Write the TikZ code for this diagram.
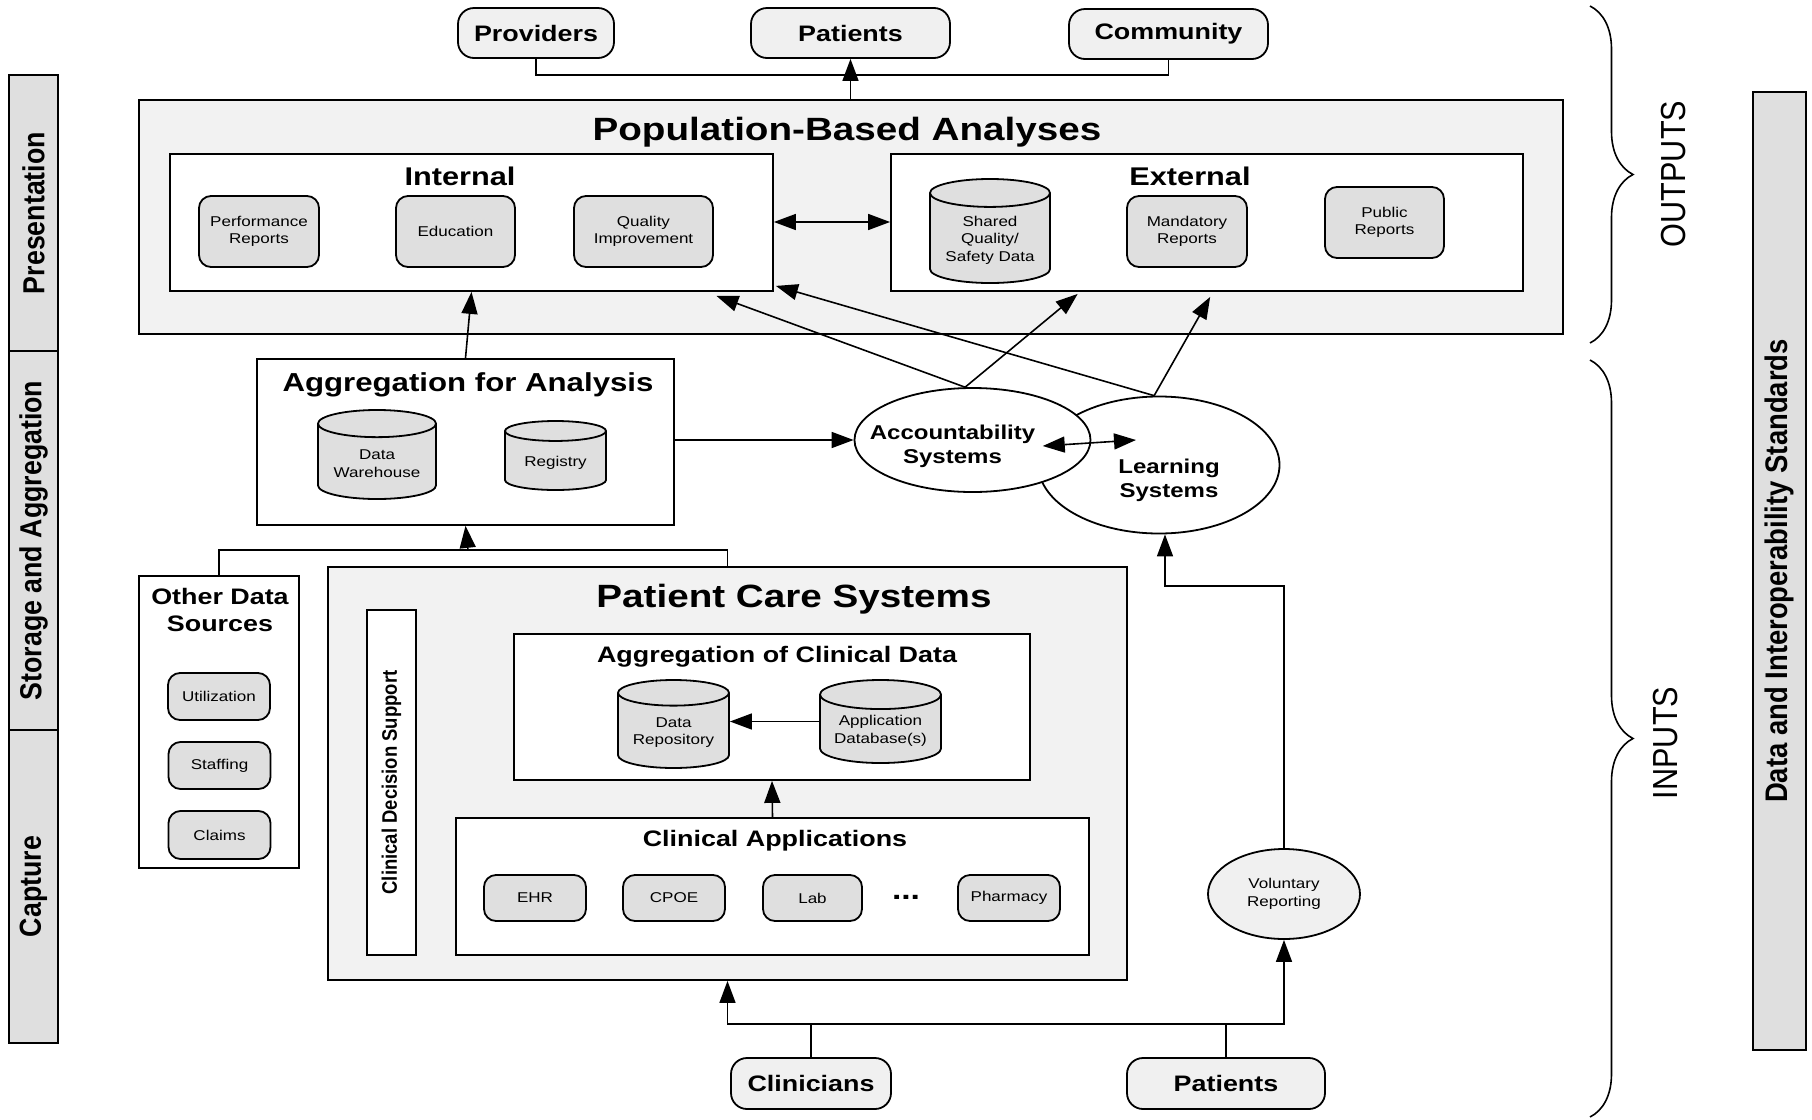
\documentclass[tikz,border=0pt]{standalone}
\usepackage{fontspec}
\setmainfont{Liberation Sans}[FakeStretch=1.2]
\newfontfamily\sidefont{Liberation Sans}[FakeStretch=0.88]
\usetikzlibrary{positioning, arrows.meta, calc, fit, shapes.geometric, decorations.pathreplacing}

\begin{document}
\begin{tikzpicture}[
  x=0.5pt, y=-0.5pt, line width=0.9pt, >={Triangle[length=11pt,width=8pt]},
  panel/.style={draw, fill=gray!10, inner sep=0pt},
  wbox/.style ={draw, fill=white, inner sep=0pt},
  item/.style ={draw, rounded corners=6pt, fill=gray!25, align=center, inner sep=1pt, font=\fontsize{7.1}{8.8}\selectfont},
  db/.style   ={draw, cylinder, shape border rotate=90, aspect=0.3, anchor=shape center, fill=gray!25, align=center, inner sep=1pt, font=\fontsize{7.1}{8.8}\selectfont},
  actor/.style={draw, rounded corners=8pt, fill=gray!12, minimum height=25pt, font=\bfseries\fontsize{11.2}{13}\selectfont},
  sys/.style  ={draw, ellipse, fill=white, inner sep=0pt},
  systxt/.style={align=center, font=\bfseries\fontsize{10}{12}\selectfont},
  bigttl/.style={font=\bfseries\fontsize{16.1}{19}\selectfont},
  midttl/.style={font=\bfseries\fontsize{12.8}{15}\selectfont},
  ttl/.style  ={align=center, font=\bfseries\fontsize{11.2}{13.5}\selectfont},
  lane/.style ={draw, fill=gray!25, rotate=90, inner sep=0pt, font=\sidefont\bfseries\fontsize{15.2}{18}\selectfont},
  bracetxt/.style={rotate=90, font=\sidefont\fontsize{17.4}{20}\selectfont},
  brc/.style  ={decorate, decoration={brace, amplitude=21.5pt}, line width=0.8pt},
  link/.style ={line width=0.8pt}]
\useasboundingbox (0,0) rectangle (1812,1120);

\node[lane, minimum width=138pt,   minimum height=24.5pt] (pres) at (33.5,213)   {Presentation};
\node[lane, minimum width=189.5pt, minimum height=24.5pt] (stor) at (33.5,540.5) {Storage and Aggregation};
\node[lane, minimum width=156.5pt, minimum height=24.5pt] (capt) at (33.5,886.5) {Capture};
\node[lane, minimum width=479pt,   minimum height=26.5pt,
      font=\sidefont\bfseries\fontsize{15.6}{18}\selectfont] (std) at (1779.5,571) {Data and Interoperability Standards};

\node[actor, minimum width=78pt]   (prov) at (536,33)    {Providers};
\node[actor, minimum width=99.5pt] (patT) at (850.5,33)  {Patients};
\node[actor, minimum width=99.5pt] (comm) at (1168.5,34) {Community};

\node[panel, fit={(139,100) (1563,334)}] (pop) {};
\node[bigttl] (popttl) at (847,132) {Population-Based Analyses};
\node[wbox, fit={(170,154) (773,291)}] (int) {};
\node[midttl] (intttl) at (460,176) {Internal};
\node[item, minimum width=60pt, minimum height=35.5pt]   (perf) at (259,231.5)   {Performance\\Reports};
\node[item, minimum width=59.5pt, minimum height=35.5pt] (edu)  at (455.5,231.5) {Education};
\node[item, minimum width=69.5pt, minimum height=35.5pt] (qual) at (643.5,231.5) {Quality\\Improvement};
\node[wbox, fit={(891,154) (1523,291)}] (ext) {};
\node[midttl] (extttl) at (1190,176) {External};
\node[db, minimum width=60pt, minimum height=52pt]       (shared) at (990,231)    {Shared\\Quality/\\Safety Data};
\node[item, minimum width=60pt, minimum height=35.5pt]   (mand)   at (1187,231.5) {Mandatory\\Reports};
\node[item, minimum width=59.5pt, minimum height=35.5pt] (pub)    at (1384.5,222.5) {Public\\Reports};

\node[wbox, fit={(257,359) (674,525)}] (agg) {};
\node[midttl, font=\bfseries\fontsize{13}{15}\selectfont] (aggttl) at (468,385) {Aggregation for Analysis};
\node[db, minimum width=59pt, minimum height=44.5pt]   (dw)  at (377,454.5)   {Data\\Warehouse};
\node[db, minimum width=50.5pt, minimum height=34.5pt] (reg) at (555.5,455.5) {Registry};

\node[sys, minimum width=120.5pt, minimum height=68.5pt,
      label={[systxt, name=lrntxt, xshift=5pt, yshift=-7.5pt]center:Learning\\Systems}] (learn) at (1159,465) {};
\node[sys, minimum width=118pt, minimum height=52pt,
      label={[systxt, name=acctxt, xshift=-10pt, yshift=-3pt]center:Accountability\\Systems}] (acc) at (972.5,440) {};
\coordinate (lrnin) at (1136,440);

\node[wbox, fit={(139,576) (299,868)}] (oth) {};
\node[ttl] (othttl) at (220,610) {Other Data\\Sources};
\node[item, minimum width=51pt, minimum height=23.5pt] (util)   at (219,696.5) {Utilization};
\node[item, minimum width=51pt, minimum height=23.5pt] (staff)  at (219.5,765.5) {Staffing};
\node[item, minimum width=51pt, minimum height=24pt]   (claims) at (219.5,835) {Claims};

\node[panel, fit={(328,567) (1127,980)}] (pcs) {};
\node[bigttl] (pcsttl) at (794,599) {Patient Care Systems};
\node[wbox, rotate=90, minimum width=172.5pt, minimum height=24.5pt,
      font=\sidefont\bfseries\fontsize{10.5}{12}\selectfont] (cds) at (391.5,782.5) {Clinical Decision Support};
\node[wbox, fit={(514,634) (1030,780)}] (aggc) {};
\node[ttl] (aggcttl) at (777,657) {Aggregation of Clinical Data};
\node[db, minimum width=55.5pt, minimum height=44pt]   (drep)  at (673.5,724)   {Data\\Repository};
\node[db, minimum width=60.5pt, minimum height=41.5pt] (appdb) at (880.5,721.5) {Application\\Database(s)};
\node[wbox, fit={(456,818) (1089,955)}] (capp) {};
\node[ttl] (cappttl) at (775,841) {Clinical Applications};
\node[item, minimum width=51pt, minimum height=23pt]   (ehr)   at (535,898)   {EHR};
\node[item, minimum width=51pt, minimum height=23pt]   (cpoe)  at (674,898)   {CPOE};
\node[item, minimum width=49.5pt, minimum height=23pt] (lab)   at (812.5,898) {Lab};
\node[font=\bfseries\fontsize{14}{16}\selectfont]      (more)  at (906,897)   {...};
\node[item, minimum width=51pt, minimum height=23pt]   (pharm) at (1009,898)  {Pharmacy};

\node[draw, ellipse, fill=gray!12, minimum width=76pt, minimum height=45pt, inner sep=0pt, align=center,
      font=\fontsize{7.1}{8.8}\selectfont] (vol) at (1284,894) {Voluntary\\Reporting};
\node[actor, minimum width=80pt, minimum height=25.5pt] (clin) at (811,1083.5)  {Clinicians};
\node[actor, minimum width=99pt, minimum height=25.5pt] (patB) at (1226,1083.5) {Patients};

\coordinate (topbus) at (853,75);
\coordinate (upbus) at (468,550);
\coordinate (lowbus) at (811,1024);
\coordinate (rbus) at (1165,586);

\draw[link] (prov.south) |- (topbus) -| (comm.south);
\draw[link,->] (patT.south |- pop.north) -- (patT.south);
\draw[link,<->] (int.east |- 0,222) -- (ext.west |- 0,222);
\draw[link,->] (agg.north) -- (int.south);
\draw[link,->] (agg.east |- acc.west) -- (acc.west);
\draw[link,<->] (acctxt.east) -- (lrnin);
\draw[link,->] (acc.98) -- ($(int.south west)!0.905!(int.south east)+(0,4)$);
\draw[link,->] (learn.94) -- ($(int.south east)+(2,-6)$);
\draw[link,->] (acc.98) -- ($(ext.south west)!0.296!(ext.south east)+(0,2)$);
\draw[link,->] (learn.94) -- ($(ext.south west)!0.505!(ext.south east)+(0,5)$);
\draw[link] (oth.north) |- (upbus) -| (pcs.north);
\draw[link,->] (upbus) -- (agg.south);
\draw[link,->] (appdb.west |- appdb.shape center) -- (drep.east |- appdb.shape center);
\draw[link,->] (capp.north) -- (aggc.south);
\draw[link] (clin.north) -- (clin.north |- lowbus);
\draw[link] (patB.north) -- (patB.north |- lowbus);
\draw[link,<->] (pcs.south) -- (pcs.south |- lowbus) -- (vol.south |- lowbus) -- (vol.south);
\draw[link,->] (vol.north) |- (rbus) -- (rbus |- learn.south);

\draw[brc] (1590,6) -- (1590,343);
\node[bracetxt] (outtxt) at (1674,174) {OUTPUTS};
\draw[brc] (1590,360) -- (1590,1117);
\node[bracetxt] (intxt) at (1666,743) {INPUTS};
\end{tikzpicture}
\end{document}
